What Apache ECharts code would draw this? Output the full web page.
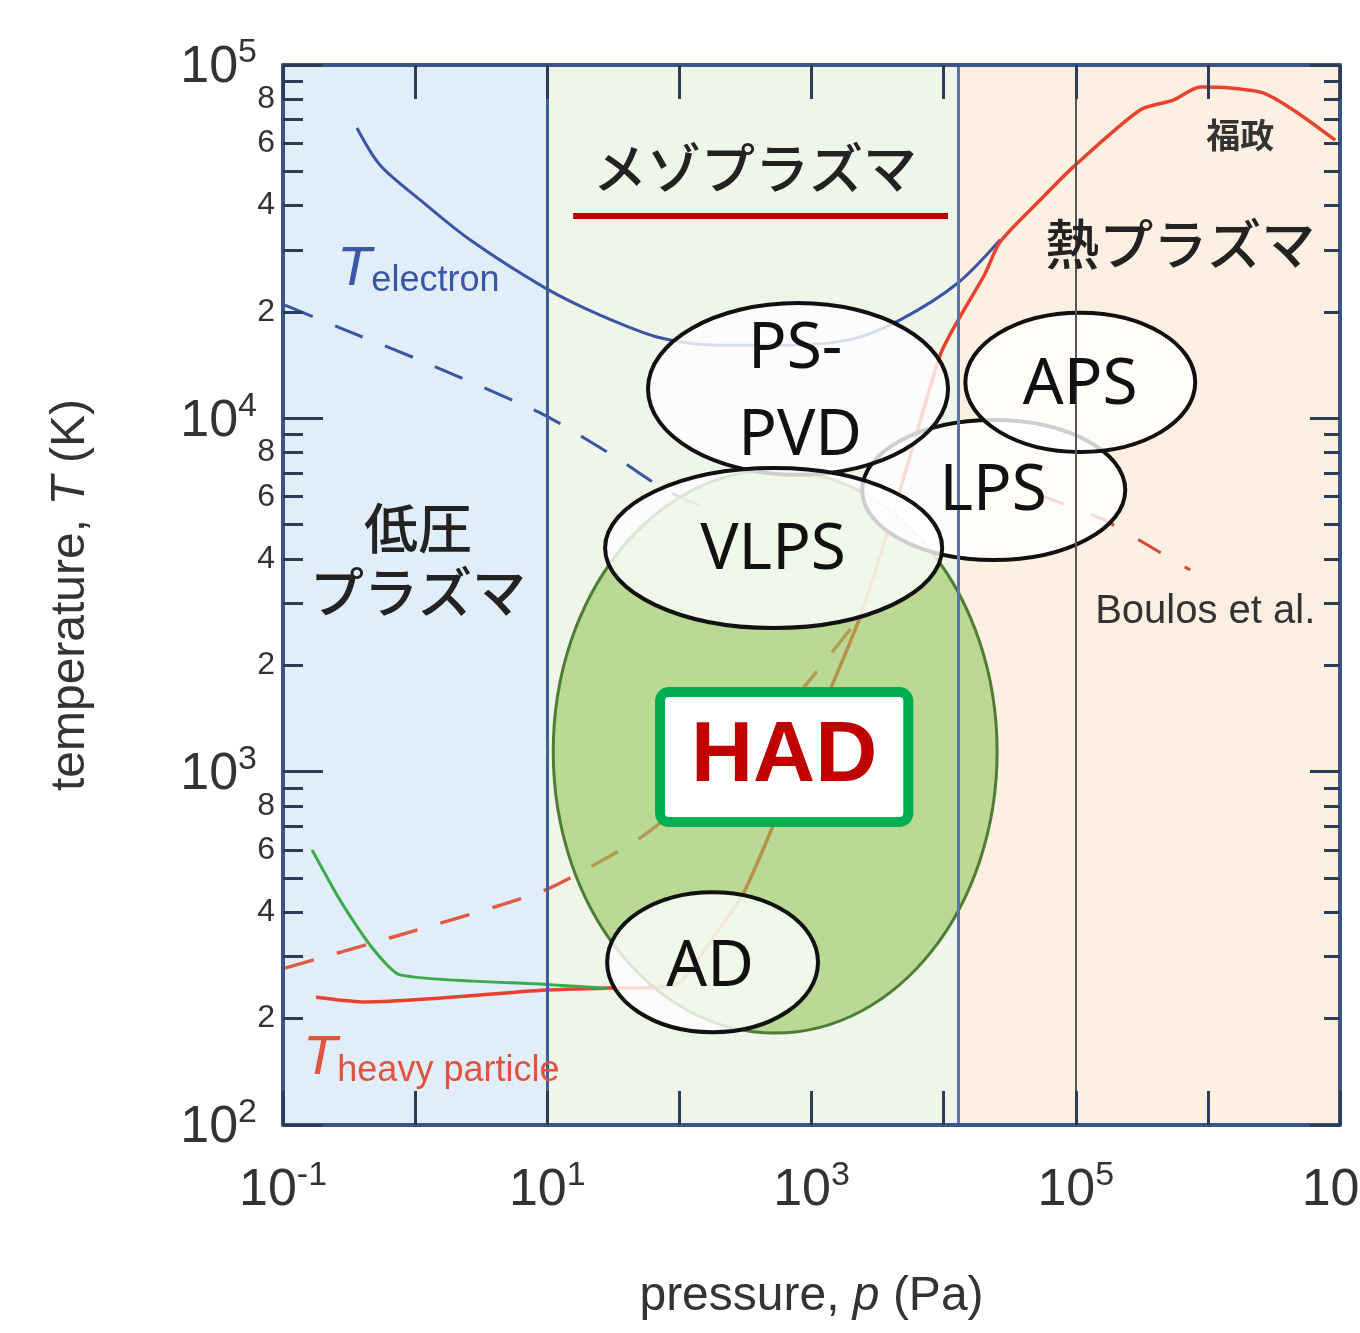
<!DOCTYPE html>
<html>
<head>
<meta charset="utf-8">
<title>pressure - temperature</title>
<script src="https://cdn.jsdelivr.net/npm/echarts@6/dist/echarts.min.js"></script>
<style>
  html, body { margin: 0; padding: 0; background: #fff; }
  #chart { width: 1360px; height: 1333px; }
</style>
</head>
<body>
<div id="chart"></div>
<script>
// pressure p (Pa) and temperature T (K)
var teP = [0.363, 0.542, 1.09, 2.60, 9.62, 25.1, 71.4, 203, 578, 1960, 4690, 12900, 26800]
var teT = [66300, 52100, 41500, 32000, 23400, 19600, 16900, 16100, 16100, 16700, 19000, 24200, 32000]

var teDashP = [0.1035, 0.294, 1.09, 9.62, 35.6, 78.0, 171]
var teDashT = [20900, 17800, 14600, 10200, 7620, 6270, 5500]

var thP = [0.178, 0.425, 9.79, 28.4, 65.5, 101, 186, 314, 820, 2330, 4690, 9420, 12900, 20300, 26800, 53800, 95500, 307000, 546000, 875000, 1480000, 2620000, 4430000, 9200000]
var thT = [230, 223, 241, 244, 245, 254, 345, 462, 1080, 2740, 6270, 15100, 19000, 25400, 31600, 41500, 51400, 74600, 79500, 86700, 86100, 83400, 74600, 61300]

var thDashP = [0.1035, 0.769, 9.62, 50.4, 144, 408, 2330]
var thDashT = [278, 345, 462, 649, 887, 1230, 2740]

var greenP = [0.166, 0.270, 0.456, 0.769, 9.79, 28.4]
var greenT = [600, 433, 323, 266, 250, 244]

var boulosP = [53800, 167000, 735000]
var boulosT = [6070, 5150, 3720]

// process regions: bounding box (left p, right p, top T, bottom T)
var procNames = ['AD', 'LPS', 'PS-PVD', 'VLPS', 'APS']
var procLeft = [28.4, 2420, 57.9, 27.4, 14600]
var procRight = [1120, 237000, 10800, 9750, 802000]
var procTop = [456, 9890, 21200, 7230, 19900]
var procBottom = [183, 3970, 6920, 2550, 8030]
var hadBox = [11.1, 25400, 7140, 182]

// text inside the ellipses
var procLabels = ['PS-', 'PVD', 'VLPS', 'LPS', 'APS', 'AD']
var procLabelP = [752, 820, 512, 23700, 108000, 171]
var procLabelT = [15600, 8850, 4210, 6180, 12400, 278]

// plasma regimes
var regionEdges = [0.1, 10, 13000, 1e7]
var regionNames = ['低圧\nプラズマ', 'メゾプラズマ', '熱プラズマ']
var regionLabelP = [1.05, 374, 617000]
var regionLabelT = [3970, 51100, 31000]
var dividers = [10, 13000, 100000]

// axis ticks
var xMajor = [0.1, 1, 10, 100, 1e3, 1e4, 1e5, 1e6, 1e7]
var xLabels = [0.1, 10, 1e3, 1e5, 1e7]
var yMajor = [100, 1e3, 1e4, 1e5]
var yMinor = [200, 300, 400, 500, 600, 700, 800, 900, 2000, 3000, 4000, 5000, 6000, 7000, 8000, 9000,
  20000, 30000, 40000, 50000, 60000, 70000, 80000, 90000]
var yMinorLabels = [200, 400, 600, 800, 2000, 4000, 6000, 8000, 20000, 40000, 60000, 80000]

var SANS = '"Liberation Sans", Arial, sans-serif'
var JP = '"Noto Sans CJK JP", sans-serif'
var FRAME = '#3b5684'

function zip(a, b) {
  return a.map(function (v, i) { return [v, b[i]] })
}

function powLabel(v) {
  var e = Math.round(Math.log10(v))
  return '{b|10}{s|' + e + '}'
}

var powRich = {
  b: { fontSize: 52, fontFamily: SANS, color: '#333', verticalAlign: 'bottom', lineHeight: 58 },
  s: { fontSize: 34, fontFamily: SANS, color: '#333', verticalAlign: 'top' }
}

function ellipseItem(params, api, style) {
  var a = api.coord([api.value(0), api.value(2)])
  var b = api.coord([api.value(1), api.value(3)])
  return {
    type: 'ellipse',
    shape: {
      cx: (a[0] + b[0]) / 2,
      cy: (a[1] + b[1]) / 2,
      rx: Math.abs(b[0] - a[0]) / 2,
      ry: Math.abs(b[1] - a[1]) / 2
    },
    style: style
  }
}

var regionColors = ['#e1eef9', '#eff5e8', '#fdefe2']
var areas = regionColors.map(function (c, i) {
  return [{ xAxis: regionEdges[i], itemStyle: { color: c } }, { xAxis: regionEdges[i + 1] }]
})
var dividerStyles = [
  { color: '#3f5f93', width: 3, type: 'solid' },
  { color: '#5b73a8', width: 3, type: 'solid' },
  { color: '#555', width: 2, type: 'solid' }
]

var textItems = []
procLabels.forEach(function (t, i) {
  textItems.push({
    value: [procLabelP[i], procLabelT[i]],
    label: { formatter: t, fontSize: 64, fontFamily: '"Noto Sans", sans-serif', color: '#111' }
  })
})
regionNames.forEach(function (t, i) {
  textItems.push({
    value: [regionLabelP[i], regionLabelT[i]],
    label: { formatter: t, fontSize: 54, lineHeight: 64, fontFamily: JP, fontWeight: 500, color: '#222' }
  })
})
textItems.push({
  value: [1760000, 63400],
  label: { formatter: '福政', fontSize: 34, fontWeight: 'bold', fontFamily: JP, color: '#333' }
})
textItems.push({
  value: [955000, 2830],
  label: { formatter: 'Boulos et al.', fontSize: 40, fontFamily: SANS, color: '#333' }
})
textItems.push({
  value: [0.257, 26300],
  label: {
    position: 'right', distance: 0,
    formatter: '{t|T}{s|electron}',
    rich: {
      t: { fontSize: 56, fontStyle: 'italic', fontFamily: SANS, color: '#3b55a5', verticalAlign: 'top' },
      s: { fontSize: 36, fontFamily: SANS, color: '#3b55a5', verticalAlign: 'bottom', padding: [22, 0, 0, 0] }
    }
  }
})
textItems.push({
  value: [0.142, 153],
  label: {
    position: 'right', distance: 0,
    formatter: '{t|T}{s|heavy particle}',
    rich: {
      t: { fontSize: 56, fontStyle: 'italic', fontFamily: SANS, color: '#e0533e', verticalAlign: 'top' },
      s: { fontSize: 36, fontFamily: SANS, color: '#e0533e', verticalAlign: 'bottom', padding: [22, 0, 0, 0] }
    }
  }
})
textItems.push({
  value: [621, 1100],
  label: {
    formatter: 'HAD', fontSize: 86, fontWeight: 'bold', fontFamily: SANS, color: '#c00000',
    backgroundColor: '#fff', borderColor: '#00b050', borderWidth: 10, borderRadius: 4,
    padding: [12, 26, 22, 26]
  }
})

var chart = echarts.init(document.getElementById('chart'))

chart.setOption({
  animation: false,
  backgroundColor: '#fff',
  grid: { left: 283, right: 20, top: 65, bottom: 208, outerBoundsMode: 'none', containLabel: false },
  xAxis: [{
    type: 'log', logBase: 10, min: 0.1, max: 1e7, position: 'bottom', z: 10,
    axisLine: { show: true, lineStyle: { color: FRAME, width: 4 } },
    axisTick: { inside: true, length: 34, customValues: xMajor, lineStyle: { color: '#2c3c58', width: 3 } },
    axisLabel: { customValues: xLabels, formatter: powLabel, rich: powRich, margin: 34 },
    splitLine: { show: false },
    minorTick: { show: false },
    name: '{n|pressure, }{i|p}{n| (Pa)}',
    nameLocation: 'middle',
    nameGap: 148,
    nameTextStyle: {
      rich: {
        n: { fontSize: 48, fontFamily: SANS, color: '#333' },
        i: { fontSize: 48, fontFamily: SANS, fontStyle: 'italic', color: '#333' }
      }
    }
  }, {
    type: 'log', logBase: 10, min: 0.1, max: 1e7, position: 'top', z: 10,
    axisLine: { show: true, lineStyle: { color: FRAME, width: 4 } },
    axisTick: { inside: true, length: 34, customValues: xMajor, lineStyle: { color: '#2c3c58', width: 3 } },
    axisLabel: { show: false },
    splitLine: { show: false }
  }],
  yAxis: [{
    type: 'log', logBase: 10, min: 100, max: 1e5, position: 'left', z: 10,
    axisLine: { show: true, lineStyle: { color: FRAME, width: 4 } },
    axisTick: { inside: true, length: 40, customValues: yMajor, lineStyle: { color: '#2c3c58', width: 3 } },
    axisLabel: { customValues: yMajor, formatter: powLabel, rich: powRich, margin: 26 },
    splitLine: { show: false },
    name: '{n|temperature, }{i|T}{n| (K)}',
    nameLocation: 'middle',
    nameRotate: 90,
    nameGap: 188,
    nameTextStyle: {
      rich: {
        n: { fontSize: 48, fontFamily: SANS, color: '#333' },
        i: { fontSize: 48, fontFamily: SANS, fontStyle: 'italic', color: '#333' }
      }
    }
  }, {
    type: 'log', logBase: 10, min: 100, max: 1e5, position: 'left', z: 10,
    axisLine: { show: false },
    axisTick: { inside: true, length: 20, customValues: yMinor, lineStyle: { color: '#2c3c58', width: 3 } },
    axisLabel: {
      customValues: yMinorLabels, margin: 8, fontSize: 32, fontFamily: SANS, color: '#333',
      formatter: function (v) { return String(Math.round(v / Math.pow(10, Math.floor(Math.log10(v) + 1e-9)))) }
    },
    splitLine: { show: false }
  }, {
    type: 'log', logBase: 10, min: 100, max: 1e5, position: 'right', z: 10,
    axisLine: { show: true, lineStyle: { color: FRAME, width: 4 } },
    axisTick: { inside: true, length: 30, customValues: yMajor, lineStyle: { color: '#2c3c58', width: 3 } },
    axisLabel: { show: false },
    splitLine: { show: false }
  }, {
    type: 'log', logBase: 10, min: 100, max: 1e5, position: 'right', z: 10,
    axisLine: { show: false },
    axisTick: { inside: true, length: 16, customValues: yMinor, lineStyle: { color: '#2c3c58', width: 3 } },
    axisLabel: { show: false },
    splitLine: { show: false }
  }],
  series: [{
    // regime backgrounds and dividers
    type: 'line', data: [], z: 1,
    markArea: { silent: true, z: 1, data: areas },
    markLine: {
      silent: true, symbol: 'none', label: { show: false },
      data: dividers.map(function (d, i) { return { xAxis: d, lineStyle: dividerStyles[i] } })
    }
  }, {
    name: 'T electron', type: 'line', data: zip(teP, teT), z: 2,
    showSymbol: false, smooth: 0.3,
    lineStyle: { color: '#3b55a5', width: 3 }
  }, {
    name: 'T electron (dashed)', type: 'line', data: zip(teDashP, teDashT), z: 2,
    showSymbol: false, smooth: 0.2,
    lineStyle: { color: '#3b55a5', width: 3, type: [30, 24] }
  }, {
    name: 'T heavy', type: 'line', data: zip(thP, thT), z: 2,
    showSymbol: false, smooth: 0.25,
    lineStyle: { color: '#e8422e', width: 3.5 }
  }, {
    name: 'T heavy (dashed)', type: 'line', data: zip(thDashP, thDashT), z: 2,
    showSymbol: false, smooth: 0.2,
    lineStyle: { color: '#e05a48', width: 3.5, type: [30, 24] }
  }, {
    name: 'green', type: 'line', data: zip(greenP, greenT), z: 2,
    showSymbol: false, smooth: 0.2,
    lineStyle: { color: '#3aaa4a', width: 3 }
  }, {
    name: 'Boulos', type: 'line', data: zip(boulosP, boulosT), z: 2,
    showSymbol: false,
    lineStyle: { color: '#d9443a', width: 3, type: [26, 28] }
  }, {
    name: 'HAD', type: 'custom', z: 3,
    data: [hadBox],
    encode: { x: [0, 1], y: [2, 3] },
    renderItem: function (params, api) {
      return ellipseItem(params, api, { fill: 'rgba(148,199,94,0.6)', stroke: '#4f7d35', lineWidth: 3 })
    }
  }, {
    name: 'processes', type: 'custom', z: 4,
    data: procNames.map(function (n, i) { return [procLeft[i], procRight[i], procTop[i], procBottom[i]] }),
    encode: { x: [0, 1], y: [2, 3] },
    renderItem: function (params, api) {
      return ellipseItem(params, api, { fill: 'rgba(255,255,255,0.8)', stroke: '#111', lineWidth: 4 })
    }
  }, {
    name: 'underline', type: 'line', z: 5,
    data: [[15.7, 37400], [10800, 37400]],
    showSymbol: false,
    lineStyle: { color: '#c00000', width: 6 }
  }, {
    name: 'text', type: 'scatter', z: 6,
    symbolSize: 0,
    itemStyle: { opacity: 1 },
    data: textItems,
    label: { show: true, position: 'inside' }
  }]
})
</script>
</body>
</html>
